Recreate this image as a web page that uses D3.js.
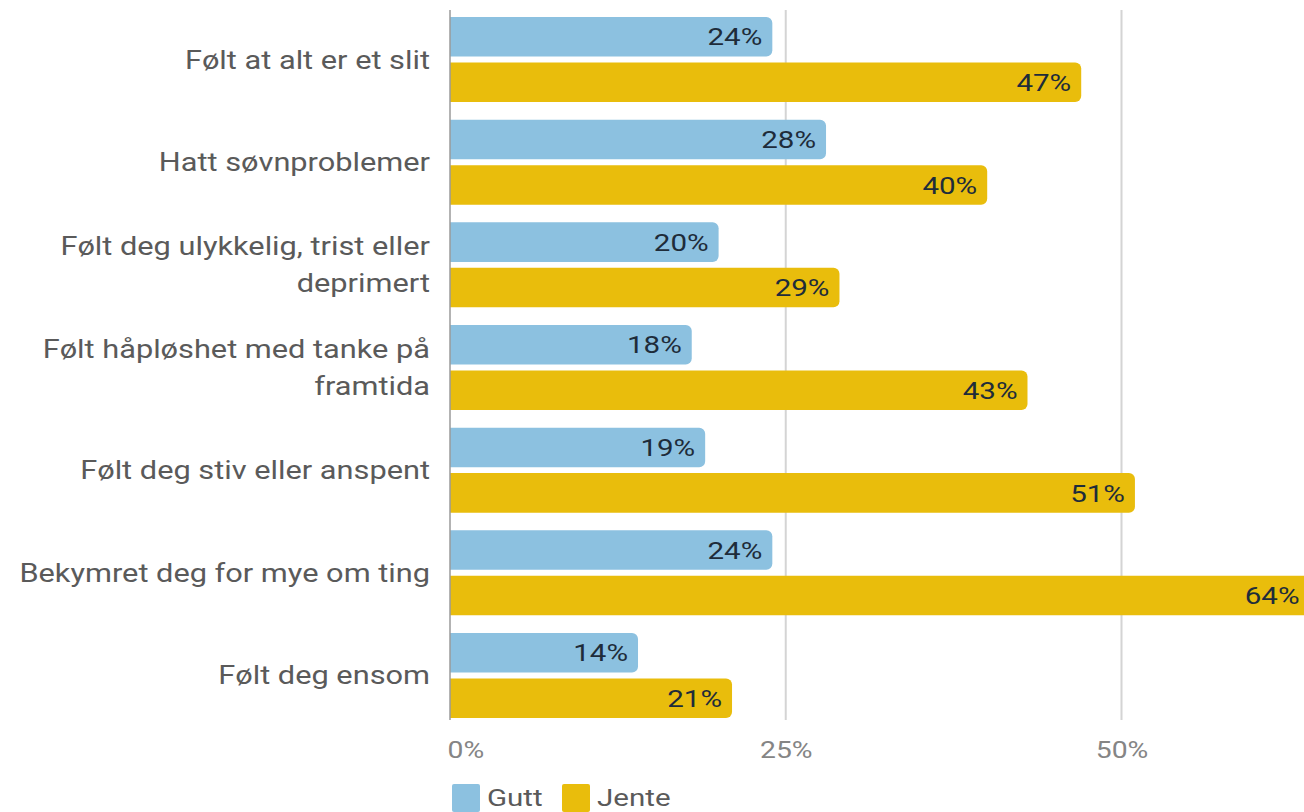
<!DOCTYPE html>
<html>
<head>
<meta charset="utf-8">
<script src="https://cdn.jsdelivr.net/npm/d3@7"></script>
<style>
  html, body { margin: 0; padding: 0; background: #fff; }
  svg { display: block; font-family: Roboto, "Noto Sans", sans-serif; }
</style>
</head>
<body>
<svg id="chart" width="1304" height="812"></svg>
<script>
// ---- data ----
const categories = [
  "Følt at alt er et slit",
  "Hatt søvnproblemer",
  "Følt deg ulykkelig, trist eller\ndeprimert",
  "Følt håpløshet med tanke på\nframtida",
  "Følt deg stiv eller anspent",
  "Bekymret deg for mye om ting",
  "Følt deg ensom"
];
const seriesNames = ["Gutt", "Jente"];
const gutt  = [24, 28, 20, 18, 19, 24, 14];
const jente = [47, 40, 29, 43, 51, 64, 21];
const tickValues = [0, 25, 50];
const tickLabels = ["0%", "25%", "50%"];
const colors = ["#8cc1e0", "#e9bd0c"];

// ---- layout ----
const SX = 1.23; // horizontal text stretch to match reference
const svg = d3.select("#chart");

const x = d3.scaleLinear().domain([0, 50]).range([450, 1121.5]);
const y0 = d3.scaleBand().domain(categories).range([8.2, 726.8])
  .paddingInner(0.172).paddingOuter(0.086);
const y1 = d3.scaleBand().domain(seriesNames).range([0, y0.bandwidth()]).paddingInner(0.13);

// gridlines
svg.append("g").selectAll("line").data(tickValues.filter(v => v > 0)).join("line")
  .attr("x1", d => x(d)).attr("x2", d => x(d))
  .attr("y1", 10).attr("y2", 720)
  .attr("stroke", "#d4d4d4").attr("stroke-width", 2);

// bars
function roundedRight(x0, yTop, w, h, r) {
  const p = d3.path();
  r = Math.min(r, w, h / 2);
  p.moveTo(x0, yTop);
  p.lineTo(x0 + w - r, yTop);
  p.arcTo(x0 + w, yTop, x0 + w, yTop + r, r);
  p.lineTo(x0 + w, yTop + h - r);
  p.arcTo(x0 + w, yTop + h, x0 + w - r, yTop + h, r);
  p.lineTo(x0, yTop + h);
  p.closePath();
  return p.toString();
}

const rows = categories.map((c, i) => ({ cat: c, vals: [
  { s: "Gutt", v: gutt[i] }, { s: "Jente", v: jente[i] }
]}));

const groups = svg.append("g").selectAll("g").data(rows).join("g")
  .attr("transform", d => `translate(0,${y0(d.cat)})`);

groups.selectAll("path").data(d => d.vals).join("path")
  .attr("d", d => roundedRight(x(0), y1(d.s), x(d.v) - x(0), y1.bandwidth(), 6))
  .attr("fill", d => colors[seriesNames.indexOf(d.s)]);

groups.selectAll("text.val").data(d => d.vals).join("text")
  .attr("class", "val")
  .attr("transform", d => `translate(${x(d.v) - 10},${y1(d.s) + y1.bandwidth() / 2}) scale(${SX},1)`)
  .attr("dy", "0.36em")
  .attr("text-anchor", "end")
  .attr("font-size", 24)
  .attr("font-weight", 400)
  .attr("fill", "#1e2c3a")
  .text(d => d.v + "%");

// category labels
const lineH = 37;
svg.append("g").selectAll("text").data(categories).join("text")
  .attr("transform", d => `translate(430,${y0(d) + y0.bandwidth() / 2}) scale(${SX},1)`)
  .attr("text-anchor", "end")
  .attr("font-size", 25)
  .attr("fill", "#5a5a5a")
  .each(function(d) {
    const lines = d.split("\n");
    const t = d3.select(this);
    lines.forEach((ln, i) => {
      t.append("tspan").attr("x", 0)
        .attr("y", (i - (lines.length - 1) / 2) * lineH)
        .attr("dy", "0.36em")
        .text(ln);
    });
  });

// axis line at zero
svg.append("line")
  .attr("x1", x(0)).attr("x2", x(0)).attr("y1", 10).attr("y2", 720)
  .attr("stroke", "#9a9a9a").attr("stroke-width", 1.5);

// x axis ticks
const xAxis = d3.axisBottom(x).tickValues(tickValues).tickSize(0)
  .tickFormat((d, i) => tickLabels[i]);
const ax = svg.append("g").attr("transform", "translate(0,742)").call(xAxis);
ax.select(".domain").remove();
ax.selectAll("text")
  .attr("font-family", "Roboto, sans-serif")
  .attr("font-size", 23)
  .attr("fill", "#858585")
  .attr("dy", "0.71em")
  .attr("y", 0)
  .attr("transform", `scale(${SX},1)`)
  .each(function(d, i) {
    if (i === 0) d3.select(this).attr("text-anchor", "start").attr("x", -3 / SX);
  });

// legend
const legend = svg.append("g").selectAll("g").data(seriesNames).join("g");
const legX = [452, 562];
legend.append("rect")
  .attr("x", (d, i) => legX[i]).attr("y", 784)
  .attr("width", 28).attr("height", 28)
  .attr("rx", 2)
  .attr("fill", (d, i) => colors[i]);
legend.append("text")
  .attr("transform", (d, i) => `translate(${legX[i] + 35},806) scale(${SX},1)`)
  .attr("font-size", 24)
  .attr("fill", "#5a5a5a")
  .text(d => d);
</script>
</body>
</html>
